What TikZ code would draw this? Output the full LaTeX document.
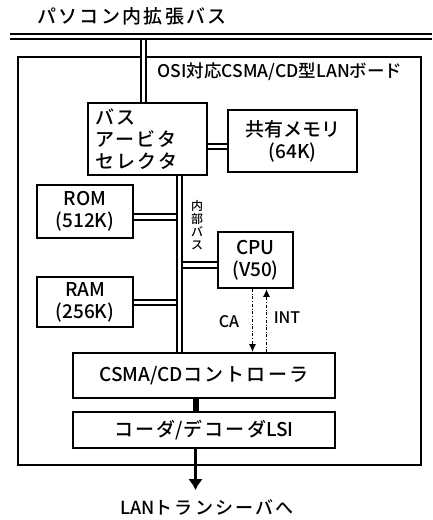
\documentclass[tikz,border=0pt]{standalone}
\usepackage{fontspec}
\setmainfont{Noto Sans CJK JP}[UprightFont=* Medium]
\newfontfamily\wide{Noto Sans CJK JP}[UprightFont=* Medium, LetterSpace=12]
\usetikzlibrary{positioning,arrows.meta}
\tikzset{
	blk/.style={draw, line width=1.8pt, inner sep=0pt, align=center, font=\fontsize{19}{22}\selectfont},
	dbl/.style={line width=1.8pt, double, double distance=3.5pt},
	sig/.style={dash dot, line width=1.2pt, -{Latex[length=8pt,width=7pt]}},
	lbl/.style={font=\fontsize{#1}{#1}\selectfont},
}

\begin{document}
\begin{tikzpicture}[x=1pt,y=-1pt]
	\useasboundingbox (0,0) rectangle (432,520);
	\draw[line width=2.6pt] (18,57) rectangle (421,465);
	\node[blk, minimum width=119, minimum height=72, text width=105, align=left] (0) at (147.5,139) {{\wide バス}\\{\wide アービタ}\\{\wide セレクタ}};
	\node[blk, minimum width=129, minimum height=62] (1) at (292.5,141) {共有メモリ\\(64K)};
	\node[blk, minimum width=96, minimum height=53] (2) at (85,211.5) {ROM\\(512K)};
	\node[blk, minimum width=96, minimum height=50] (3) at (85,302) {RAM\\(256K)};
	\node[blk, minimum width=75, minimum height=56] (4) at (255.5,260) {CPU\\(V50)};
	\node[blk, minimum width=262, minimum height=45] (5) at (204,375.5) {CSMA/CD{\wide コントローラ}};
	\node[blk, minimum width=262, minimum height=36] (6) at (204,430) {{\wide コーダ}/{\wide デコーダ}LSI};
	\node[lbl=19] (7) at (132,16) {\wide パソコン内拡張バス};
	\node[lbl=17.5] (8) at (280,72) {OSI対応CSMA/CD型LANボード};
	\node[align=center, inner sep=0pt, font=\fontsize{12}{13}\selectfont] (9) at (197,225) {内\\部\\バ\\ス};
	\node[lbl=16] (10) at (229,322) {CA};
	\node[lbl=16] (11) at (287,318) {INT};
	\node[lbl=18] (12) at (207,507) {LAN{\wide トランシーバへ}};
	% bus points
	\coordinate (b0) at (10,36.5);
	\coordinate (b1) at (432,36.5);
	\coordinate (v0) at (143.5,36.5);
	\coordinate (v1) at (179.5,0);
	\coordinate (v3) at (195.5,0);
	\coordinate (v4) at (195.5,490);
	\coordinate (h1) at (0,146.5);
	\coordinate (h2) at (0,217);
	\coordinate (h3) at (0,302.5);
	\coordinate (h4) at (0,265);
	\coordinate (ca) at (252.5,0);
	\coordinate (int) at (266.5,0);
	\draw[dbl] (v0) -- (v0 |- 0.north);
	\draw[dbl] (b0) -- (b1);
	\draw[dbl] (h1 -| 0.east) -- (h1 -| 1.west);
	\draw[dbl] (h2 -| 2.east) -- (h2 -| v1);
	\draw[dbl] (h3 -| 3.east) -- (h3 -| v1);
	\draw[dbl] (h4 -| 4.west) -- (h4 -| v1);
	\draw[dbl] (0.south -| v1) -- (5.north -| v1);
	\draw[sig] (4.south -| ca) -- (5.north -| ca);
	\draw[sig] (5.north -| int) -- (4.south -| int);
	\draw[line width=6pt] (5.south -| v3) -- (6.north -| v3);
	\draw[line width=3pt, -{Latex[length=11pt,width=15pt]}] (6.south -| v4) -- (v4);
\end{tikzpicture}
\end{document}
